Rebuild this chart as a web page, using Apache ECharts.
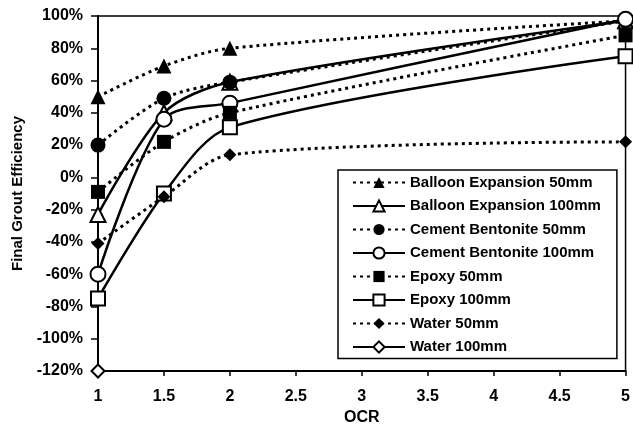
<!DOCTYPE html>
<html><head><meta charset="utf-8">
<script src="https://cdn.jsdelivr.net/npm/echarts@6/dist/echarts.min.js"></script>
<style>html,body{margin:0;padding:0;background:#fff}#c{width:633px;height:437px}</style>
</head><body><div id="c"></div>
<script>
const ocr = [1, 1.5, 2, 5];
const xTicks = ['1','1.5','2','2.5','3','3.5','4','4.5','5'];
const balloon50 = [50, 69, 80, 97];
const balloon100 = [-23, 40, 59, 97];
const cement50 = [20, 49, 59, 97];
const cement100 = [-60, 36, 46, 98];
const epoxy50 = [-9, 22, 40, 88];
const epoxy100 = [-75, -10, 31, 75];
const water50 = [-41, -12, 14, 22];
const water100 = [-120, null, null, null];
const names = ['Balloon Expansion 50mm','Balloon Expansion 100mm','Cement Bentonite 50mm','Cement Bentonite 100mm','Epoxy 50mm','Epoxy 100mm','Water 50mm','Water 100mm'];

const F = 'Liberation Sans, Arial, sans-serif';
function pts(v){ return ocr.map((x,i)=> v[i]==null ? null : [x, v[i]]).filter(p=>p); }
function mk(name, vals, symbol, size, filled, dotted){
  return {
    name, type:'line', data: pts(vals), smooth:0.3, symbol, symbolSize:size,
    showAllSymbol:true,
    lineStyle:{color:'#000', width: dotted?3:2.5, type: dotted?[3,4]:'solid', cap:'butt'},
    itemStyle:{color: filled?'#000':'#fff', borderColor:'#000', borderWidth: filled?0:2},
    emphasis:{disabled:true}, animation:false, z: 3
  };
}
const series = [
  mk(names[0], balloon50, 'triangle', 15, true, true),
  mk(names[1], balloon100, 'triangle', 15, false, false),
  mk(names[2], cement50, 'circle', 15, true, true),
  mk(names[3], cement100, 'circle', 15, false, false),
  mk(names[4], epoxy50, 'rect', 14, true, true),
  mk(names[5], epoxy100, 'rect', 14, false, false),
  mk(names[6], water50, 'diamond', 13, true, true),
  mk(names[7], water100, 'diamond', 13, false, false)
];
const chart = echarts.init(document.getElementById('c'));
chart.setOption({
  animation:false,
  grid:{left:98, right:7, top:16, bottom:66, show:true, borderColor:'#000', borderWidth:1.5, backgroundColor:'transparent'},
  xAxis:{type:'value', min:1, max:5, interval:0.5,
    name:'OCR', nameLocation:'middle', nameGap:39,
    nameTextStyle:{fontFamily:F, fontSize:16, fontWeight:'bold', color:'#000'},
    axisLine:{onZero:false, lineStyle:{color:'#000', width:2}},
    axisTick:{show:true, length:5, lineStyle:{color:'#000', width:1.5}},
    axisLabel:{fontFamily:F, fontSize:16, fontWeight:'bold', color:'#000', margin:18,
      formatter:(v)=>{const s=String(v); return xTicks.includes(s)?s:'';}},
    splitLine:{show:false}},
  yAxis:{type:'value', min:-120, max:100, interval:20,
    name:'Final Grout Efficiency', nameLocation:'middle', nameGap:73, nameRotate:90,
    nameTextStyle:{fontFamily:F, fontSize:15, fontWeight:'bold', color:'#000'},
    axisLine:{show:true, onZero:false, lineStyle:{color:'#000', width:2}},
    axisTick:{show:true, length:7, lineStyle:{color:'#000', width:1.5}},
    axisLabel:{fontFamily:F, fontSize:16, fontWeight:'bold', color:'#000', margin:15, formatter:v=>v+'%'},
    splitLine:{show:false}},
  legend:{orient:'vertical', left:338, top:170, data:names,
    backgroundColor:'#fff', borderColor:'#000', borderWidth:1.5,
    padding:[5,16,4,14], itemWidth:52, itemHeight:14, itemGap:8.5,
    textStyle:{fontFamily:F, fontSize:15, fontWeight:'bold', color:'#000', lineHeight:14}},
  series
});
</script></body></html>
